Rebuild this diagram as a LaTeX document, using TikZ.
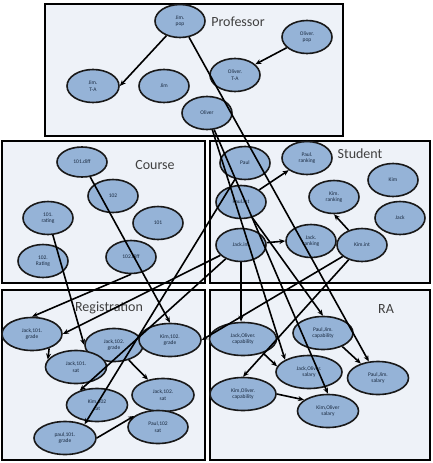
\documentclass[tikz,border=0pt]{standalone}
\usepackage{fontspec}
\setmainfont{Carlito}
\usetikzlibrary{shapes.geometric,arrows.meta}
\definecolor{boxfill}{HTML}{EEF2F8}
\definecolor{nodefill}{HTML}{95B3D7}
\definecolor{titlecol}{HTML}{404040}
\definecolor{nodetext}{HTML}{1A2A40}
\begin{document}
\begin{tikzpicture}[x=1pt,y=-1pt,
 panel/.style={draw=black,line width=2.2pt,fill=boxfill},
 nd/.style={ellipse,draw=black!90,line width=1.6pt,fill=nodefill,minimum width=50pt,minimum height=33pt,inner sep=0pt,align=center,text=nodetext,font=\fontsize{5.5}{6.3}\selectfont},
 wide/.style={nd,minimum width=#1},
 ttl/.style={font=\fontsize{14}{16}\selectfont,text=titlecol},
 edge/.style={line width=1.6pt,-{Stealth[length=6pt,width=5pt]}}]
\useasboundingbox (0,0) rectangle (432,463);
% panels
\draw[panel] (45,4) rectangle (343,136);
\draw[panel] (2,141) rectangle (205,283);
\draw[panel] (210,141) rectangle (430,283);
\draw[panel] (2,290) rectangle (205,460);
\draw[panel] (210,290) rectangle (430,460);
% titles
\node[ttl] (tprof) at (238,22) {Professor};
\node[ttl] (tcourse) at (155,165) {Course};
\node[ttl] (tstud) at (360,154) {Student};
\node[ttl] (treg) at (109,308) {Registration};
\node[ttl] (tra) at (386,309) {RA};
% Professor
\node[nd] (jimpop) at (180,21) {Jim.\\pop};
\node[nd] (oliverpop) at (307,37) {Oliver.\\pop};
\node[nd] (oliverta) at (235,75) {Oliver.\\T-A};
\node[wide=52pt] (jimta) at (93,86) {Jim.\\T-A};
\node[nd] (jim) at (164,86) {Jim};
\node[nd] (oliver) at (207,113) {Oliver};
% Course
\node[nd,minimum height=30pt] (d101) at (82,162) {101.diff};
\node[nd] (c102) at (113,196) {102};
\node[nd] (r101) at (48,218) {101.\\rating};
\node[nd] (c101) at (158,223) {101};
\node[nd] (r102) at (43,261) {102.\\Rating};
\node[nd] (d102) at (131,257) {102.diff};
% Student
\node[nd] (paul) at (245,163) {Paul};
\node[nd] (paulrank) at (307,158) {Paul.\\ranking};
\node[nd] (kim) at (393,180) {Kim};
\node[nd] (paulint) at (241,202) {Paul.int};
\node[nd] (kimrank) at (334,197) {Kim.\\ranking};
\node[nd] (jack) at (400,218) {Jack};
\node[nd] (jackint) at (241,245) {Jack.int};
\node[nd] (jackrank) at (311,241) {Jack.\\ranking};
\node[nd] (kimint) at (362,245) {Kim.int};
% Registration
\node[wide=60pt] (j101g) at (32,334) {Jack,101.\\grade};
\node[wide=58pt] (j102g) at (114,345) {Jack,102.\\grade};
\node[wide=62pt] (k102g) at (170,340) {Kim,102.\\grade};
\node[wide=61pt] (j101s) at (76,367) {Jack,101.\\sat};
\node[wide=62pt] (j102s) at (163,395) {Jack,102.\\sat};
\node[wide=61pt] (k102s) at (97,405) {Kim,102\\sat};
\node[wide=60pt] (p102s) at (158,427) {Paul,102\\sat};
\node[wide=62pt] (p101g) at (65,438) {paul,101.\\grade};
% RA
\node[wide=67pt] (jocap) at (243,339) {Jack,Oliver.\\capability};
\node[wide=60pt] (pjcap) at (323,333) {Paul,Jim.\\capability};
\node[wide=66pt] (josal) at (309,372) {Jack,Oliver.\\salary};
\node[wide=61pt] (pjsal) at (378,378) {Paul,Jim.\\salary};
\node[wide=66pt] (kocap) at (243,394) {Kim,Oliver.\\capability};
\node[wide=61pt] (kosal) at (328,411) {Kim,Oliver\\salary};
% edges
\draw[edge] (jimpop) -- (jimta.east);
\draw[edge] (oliverpop) -- (oliverta);
\draw[edge] (jimpop) -- (pjsal);
\draw[edge] (oliver) -- (josal.north west);
\draw[edge] (oliver) -- (kosal.north);
\draw[edge] (paulint) -- (pjcap.north);
\draw[edge] (paulint) -- (paulrank);
\draw[edge] (kimint) -- (kimrank.south);
\draw[edge] (jackint) -- (jackrank.west);
\draw[edge] (jackint.south) -- (jackint.south |- jocap.north);
\draw[edge] (kimint) -- (kocap.north);
\draw[edge] (kimint) -- (k102g.east);
\draw[edge] (jackint) -- (j101g.east);
\draw[edge] (d102.south) -- (j101g.north);
\draw[edge] (d101) -- (k102g.north);
\draw[edge] (r101) -- (j102g.west);
\draw[edge] (j101g.-40) -- (j101s.165);
\draw[edge] (j102g) -- (j102s);
\draw[edge] (p101g.east) -- (p102s.155);
\draw[edge] (paul) -- (p101g.35);
\draw[edge] (jackint) -- (k102s.140);
\draw[edge] (jocap.-35) -- (josal.170);
\draw[edge] (pjcap.-35) -- (pjsal.140);
\draw[edge] (kocap.east) -- (kosal.155);
\end{tikzpicture}
\end{document}
